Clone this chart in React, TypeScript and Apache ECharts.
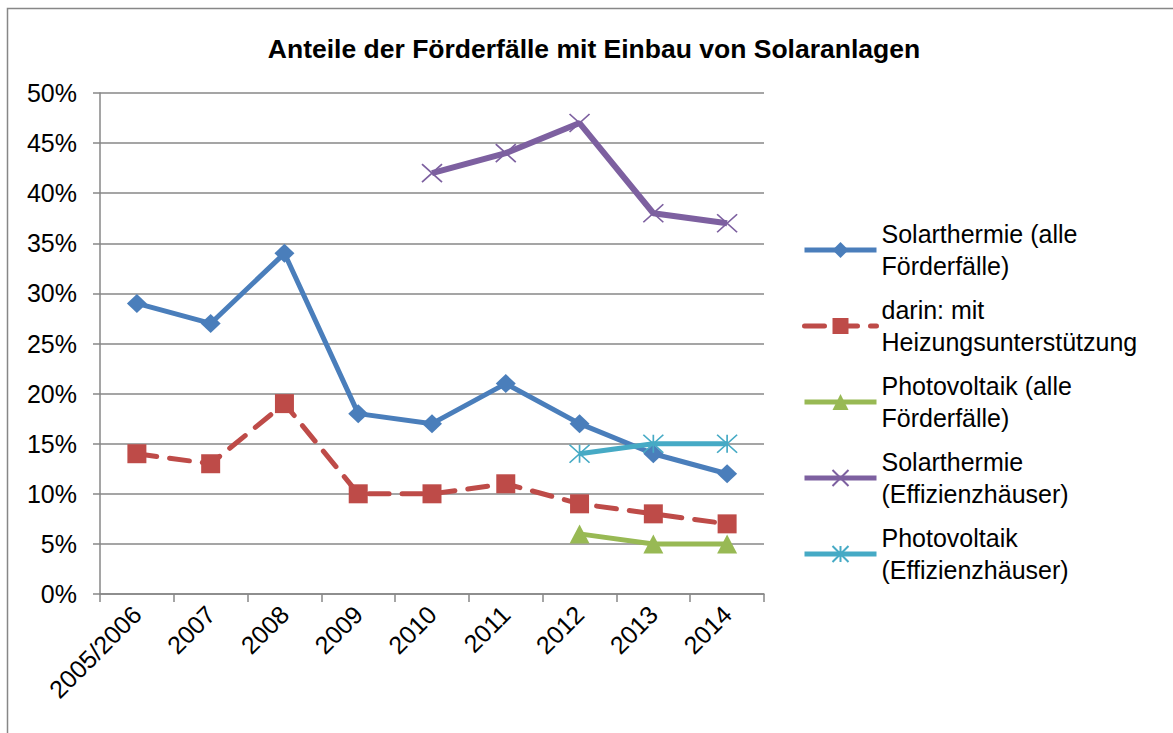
import React, { useEffect, useRef } from "react";
import * as echarts from "echarts";

const title = "Anteile der Förderfälle mit Einbau von Solaranlagen";
const categories = ["2005/2006", "2007", "2008", "2009", "2010", "2011", "2012", "2013", "2014"];
const solarAlle = [29, 27, 34, 18, 17, 21, 17, 14, 12];
const heizung = [14, 13, 19, 10, 10, 11, 9, 8, 7];
const pvAlle = [null, null, null, null, null, null, 6, 5, 5];
const solarEH = [null, null, null, null, 42, 44, 47, 38, 37];
const pvEH = [null, null, null, null, null, null, 14, 15, 15];
const seriesNames = [
  "Solarthermie (alle\nFörderfälle)",
  "darin: mit\nHeizungsunterstützung",
  "Photovoltaik (alle\nFörderfälle)",
  "Solarthermie\n(Effizienzhäuser)",
  "Photovoltaik\n(Effizienzhäuser)",
];
const yTicks = { min: 0, max: 50, interval: 5 };

const BLUE = "#4a7ebb";
const RED = "#be4b48";
const GREEN = "#98b954";
const PURPLE = "#7d60a0";
const CYAN = "#46aac5";
const GRAY = "#878787";
const FONT = "Liberation Sans, Arial, sans-serif";

export default function App() {
  const ref = useRef<HTMLDivElement>(null);
  useEffect(() => {
    if (!ref.current) return;
    const chart = echarts.init(ref.current, undefined, { renderer: "svg" });
    const base = {
      type: "line",
      connectNulls: false,
      showSymbol: true,
      z: 3,
    };
    chart.setOption({
      animation: false,
      backgroundColor: "#ffffff",
      textStyle: { fontFamily: FONT },
      title: {
        text: title,
        left: 589,
        textAlign: "center",
        top: 30,
        textStyle: { fontFamily: FONT, fontSize: 26.5, fontWeight: "bold", color: "#000" },
      },
      graphic: [
        {
          type: "rect",
          shape: { x: 7.5, y: 8.5, width: 1200, height: 800 },
          style: { fill: "none", stroke: GRAY, lineWidth: 1.5 },
          silent: true,
        },
      ],
      legend: {
        orient: "vertical",
        left: 797,
        top: 197,
        itemWidth: 72,
        itemHeight: 20,
        itemGap: -20,
        lineStyle: { width: 5 },
        textStyle: {
          fontFamily: FONT,
          fontSize: 25,
          color: "#000",
          lineHeight: 32,
          padding: [32, 0, 0, 0],
        },
        data: seriesNames,
      },
      grid: { left: 100, right: 409, top: 93, bottom: 139, containLabel: false },
      xAxis: {
        type: "category",
        data: categories,
        boundaryGap: true,
        axisLine: { lineStyle: { color: GRAY, width: 1.5 } },
        axisTick: { show: true, length: 8, interval: 0, lineStyle: { color: GRAY, width: 1.5 } },
        axisLabel: {
          interval: 0,
          rotate: 45,
          margin: 16,
          fontFamily: FONT,
          fontSize: 25,
          color: "#000",
        },
        splitLine: { show: false },
      },
      yAxis: {
        type: "value",
        min: yTicks.min,
        max: yTicks.max,
        interval: yTicks.interval,
        axisLine: { show: true, lineStyle: { color: GRAY, width: 1.5 } },
        axisTick: { show: true, length: 7, lineStyle: { color: GRAY, width: 1.5 } },
        axisLabel: {
          formatter: "{value}%",
          margin: 23,
          fontFamily: FONT,
          fontSize: 25,
          color: "#000",
        },
        splitLine: { show: true, lineStyle: { color: GRAY, width: 1.5 } },
      },
      series: [
        {
          ...base,
          name: seriesNames[0],
          data: solarAlle,
          symbol: "diamond",
          symbolSize: [20, 19],
          lineStyle: { color: BLUE, width: 5 },
          itemStyle: { color: BLUE },
        },
        {
          ...base,
          name: seriesNames[1],
          data: heizung,
          symbol: "rect",
          symbolSize: 19,
          lineStyle: { color: RED, width: 5, type: [20, 13], cap: "round" },
          itemStyle: { color: RED },
        },
        {
          ...base,
          name: seriesNames[2],
          data: pvAlle,
          symbol: "triangle",
          symbolSize: [20, 19],
          lineStyle: { color: GREEN, width: 5 },
          itemStyle: { color: GREEN },
        },
        {
          ...base,
          name: seriesNames[3],
          data: solarEH,
          symbol: "path://M0,0L10,9M10,0L0,9",
          symbolSize: [20, 18],
          symbolKeepAspect: false,
          lineStyle: { color: PURPLE, width: 6 },
          itemStyle: { color: "none", borderColor: PURPLE, borderWidth: 1.6 },
        },
        {
          ...base,
          name: seriesNames[4],
          data: pvEH,
          symbol: "path://M0,0L10,9M10,0L0,9M5,0L5,9",
          symbolSize: [20, 18],
          symbolKeepAspect: false,
          lineStyle: { color: CYAN, width: 5 },
          itemStyle: { color: "none", borderColor: CYAN, borderWidth: 1.6 },
        },
      ],
    });
    return () => chart.dispose();
  }, []);
  return (
    <div
      ref={ref}
      style={{ position: "fixed", left: 0, top: 0, width: 1173, height: 733 }}
    />
  );
}
